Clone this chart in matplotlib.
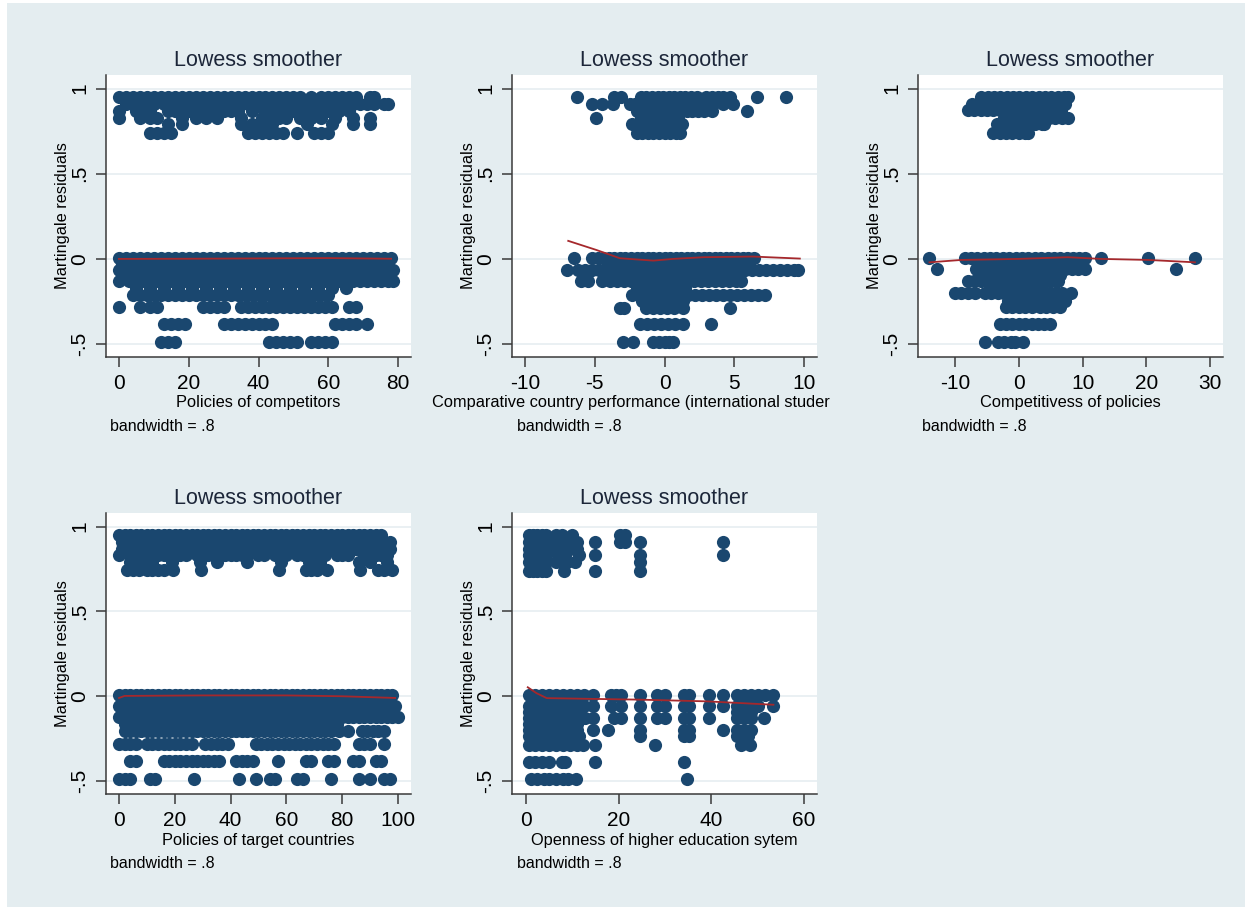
import matplotlib
matplotlib.use("Agg")
from matplotlib import pyplot as plt
from matplotlib.patches import Rectangle

plt.rcParams['font.family'] = ['Liberation Sans', 'DejaVu Sans']
plt.rcParams['axes.unicode_minus'] = False

W, H = 1252, 914
NAVY = '#1a476f'
RED = '#a5282c'
BG = '#e4edf0'
GRID = '#e6eef1'

# martingale residuals, by residual level -> x positions of the points
competitors = {
    0.95: [0, 2, 4, 6, 8, 10, 12, 14, 16, 18, 20, 22, 24, 26, 28, 30, 32, 34, 36, 38, 40,
           42, 44, 46, 48, 50, 52, 55, 58, 60, 62, 64, 66, 68, 72, 73],
    0.91: [2, 4, 6, 8, 10, 13, 15, 17, 19, 21, 23, 25, 27, 29, 31, 33, 35, 37, 39, 41, 43,
           45, 47, 49, 51, 53, 55, 57, 59, 61, 63, 65, 67, 69, 71, 73, 76, 77],
    0.87: [0, 5, 7, 9, 14, 16, 18, 20, 22, 24, 26, 28, 30, 32, 34, 38, 42, 44, 46, 48, 50,
           52, 54, 56, 58, 60, 63, 66],
    0.83: [0, 6, 9, 11, 18, 22, 25, 28, 35, 41, 43, 46, 48, 52, 55, 58, 62, 67, 72],
    0.79: [14, 18, 35, 38, 40, 42, 44, 54, 61, 67, 72],
    0.74: [9, 11, 13, 15, 37, 39, 41, 43, 45, 47, 51, 56, 58, 60],
    0.005: [0, 2, 4, 6, 8, 10, 12, 14, 16, 18, 20, 22, 24, 26, 28, 30, 32, 34, 36, 38, 40,
            42, 44, 46, 48, 50, 52, 54, 56, 58, 60, 62, 64, 66, 68, 70, 72, 74, 76, 78],
    -0.03: [1, 4, 7, 10, 13, 16, 19, 22, 25, 28, 31, 34, 37, 40, 43, 46, 49, 52, 55, 58,
            61, 64, 67, 70, 73, 76],
    -0.065: [0, 2, 4, 6, 8, 10, 12, 14, 16, 18, 20, 22, 24, 26, 28, 30, 32, 34, 36, 38, 40,
             42, 44, 46, 48, 50, 52, 54, 56, 58, 60, 62, 64, 66, 68, 70, 72, 74, 76, 78.5],
    -0.1: [2, 5, 8, 11, 14, 17, 20, 23, 26, 29, 32, 35, 38, 41, 44, 47, 50, 53, 56, 59,
           62, 65, 68, 71, 74, 77],
    -0.13: [0, 3, 5, 7, 9, 11, 13, 15, 17, 19, 21, 23, 25, 27, 29, 31, 33, 35, 37, 39, 41,
            43, 45, 47, 49, 51, 53, 55, 57, 59, 61, 63, 65, 67, 69, 71, 73, 75, 77, 78.5],
    -0.17: [5, 9, 13, 17, 21, 25, 29, 33, 37, 41, 45, 49, 53, 57, 61, 65],
    -0.21: [4, 6, 8, 10, 12, 14, 16, 18, 20, 22, 24, 26, 28, 30, 32, 34, 36, 38, 40, 42, 44,
            46, 48, 50, 52, 54, 56, 58, 60],
    -0.25: [46, 48, 50, 52, 54],
    -0.285: [0, 6, 9, 11, 24, 26, 28, 30, 35, 37, 39, 41, 43, 45, 47, 49, 51, 53, 55, 57,
             59, 61, 66, 68],
    -0.38: [13, 15, 17, 19, 30, 32, 34, 36, 38, 40, 42, 44, 62, 64, 66, 68, 71],
    -0.49: [12, 14, 16, 43, 45, 47, 49, 51, 55, 57, 59, 61],
}

performance = {
    0.95: [-6.3, -3.6, -3.1, -1.7, -1.3, -0.9, -0.5, -0.1, 0.3, 0.7, 1.1, 1.5, 1.9, 2.3,
           3.0, 3.4, 3.8, 4.2, 4.7, 6.6, 8.7],
    0.91: [-5.2, -4.5, -3.7, -2.5, -2.1, -1.7, -1.3, -0.9, -0.5, -0.1, 0.3, 0.7, 1.1, 1.5,
           1.9, 2.3, 2.7, 3.1, 3.5, 4.2, 4.9],
    0.87: [-2.0, -1.6, -1.2, -0.8, -0.4, 0.0, 0.4, 0.8, 1.2, 1.6, 2.0, 2.4, 2.8, 3.4, 5.9],
    0.83: [-4.9, -1.7, -1.3, -0.9, -0.5, -0.1, 0.3, 0.7, 1.0],
    0.79: [-2.3, -1.9, -1.5, -1.1, -0.7, -0.3, 0.1, 0.5, 0.9, 1.25],
    0.74: [-2.0, -1.6, -1.2, -0.8, -0.4, 0.0, 0.4, 0.8, 1.1],
    0.005: [-6.5, -5.2, -4.8, -4.4, -4.0, -3.6, -3.2, -2.8, -2.4, -2.0, -1.6, -1.2, -0.8,
            -0.4, 0.0, 0.4, 0.8, 1.2, 1.6, 2.0, 2.4, 2.8, 3.2, 3.6, 4.0, 4.4, 4.8, 5.2, 5.6,
            6.0, 6.4],
    -0.03: [-4.0, -3.3, -2.6, -1.9, -1.2, -0.5, 0.2, 0.9, 1.6, 2.3, 3.0, 3.7, 4.4, 5.1,
            5.8],
    -0.065: [-7.0, -6.2, -5.7, -5.2, -4.7, -4.2, -3.7, -3.2, -2.7, -2.2, -1.7, -1.2, -0.7,
             -0.2, 0.3, 0.8, 1.3, 1.8, 2.3, 2.8, 3.3, 3.8, 4.3, 4.8, 5.3, 5.8, 6.3, 6.8,
             7.3, 7.8, 8.3, 8.8, 9.3, 9.6],
    -0.1: [-3.0, -2.3, -1.6, -0.9, -0.2, 0.5, 1.2, 1.9, 2.6, 3.3, 4.0, 4.7],
    -0.13: [-6.0, -5.5, -4.5, -3.9, -3.4, -2.9, -2.4, -1.9, -1.4, -0.9, -0.4, 0.1, 0.6,
            1.1, 1.6, 2.1, 2.6, 3.1, 3.6, 4.1, 4.6, 5.1, 5.5],
    -0.17: [-2.0, -1.5, -1.0, -0.5, 0.0, 0.5, 1.0, 1.5],
    -0.21: [-2.3, -1.8, -1.3, -0.8, -0.3, 0.2, 0.7, 1.2, 1.7, 2.2, 2.7, 3.2, 3.7, 4.2, 4.7,
            5.2, 5.7, 6.2, 6.7, 7.2],
    -0.25: [-1.6, -1.1, -0.6, -0.1, 0.4, 0.9, 1.3],
    -0.29: [-3.2, -2.9, -1.3, -0.8, -0.3, 0.2, 0.7, 1.35, 4.7],
    -0.38: [-1.75, -1.25, -0.75, -0.25, 0.25, 0.75, 1.35, 3.3],
    -0.49: [-2.95, -2.25, -0.8, -0.4, 0.0, 0.3, 0.6],
}

policies = {
    0.95: [-5.9, -4.9, -3.9, -2.9, -1.9, -0.9, 0.1, 1.1, 2.1, 3.1, 4.1, 5.1, 6.1, 7.1, 7.7],
    0.91: [-7.4, -6.4, -5.4, -4.4, -3.4, -2.4, -1.4, -0.4, 0.6, 1.6, 2.6, 3.6, 4.6, 5.6,
           6.6, 7.2],
    0.875: [-8.0, -7.0, -6.0, -5.0, -4.0, -3.0, -2.0, -1.0, 0.0, 1.0, 2.0, 3.0, 4.0, 5.0,
            6.0, 6.6],
    0.83: [-2.3, -1.3, -0.3, 0.7, 1.7, 2.7, 3.7, 4.7, 5.7, 6.7, 7.7],
    0.79: [-3.4, -2.4, -1.4, -0.4, 0.6, 1.6, 2.6, 3.6, 4.0],
    0.74: [-4.0, -3.0, -2.0, -1.0, 0.0, 1.0, 1.5],
    0.005: [-14.0, -8.5, -7.5, -6.5, -5.5, -4.5, -3.5, -2.5, -1.5, -0.5, 0.5, 1.5, 2.5,
            3.5, 4.5, 5.5, 6.5, 7.5, 8.5, 9.5, 10.3, 12.9, 20.3, 27.6],
    -0.03: [-6.0, -4.5, -3.0, -1.5, 0.0, 1.5, 3.0, 4.5, 6.0, 7.5, 9.0],
    -0.06: [-12.9, -6.7, -5.7, -4.7, -3.7, -2.7, -1.7, -0.7, 0.3, 1.3, 2.3, 3.3, 4.3, 5.3,
            6.3, 7.3, 8.3, 9.3, 10.3, 24.7],
    -0.095: [-5.5, -4.0, -2.5, -1.0, 0.5, 2.0, 3.5, 5.0, 6.5],
    -0.13: [-8.0, -7.0, -6.0, -5.0, -4.0, -3.0, -2.0, -1.0, 0.0, 1.0, 2.0, 3.0, 4.0, 5.0,
            6.2],
    -0.165: [-4.0, -2.5, -1.0, 0.5, 2.0, 3.5],
    -0.2: [-10.0, -9.0, -7.9, -6.9, -5.3, -4.3, -3.3, -2.3, -1.3, -0.3, 0.7, 1.7, 2.7, 3.7,
           4.7, 5.7, 6.7, 8.2],
    -0.245: [-1.7, -0.7, 0.3, 1.3, 2.3, 3.3, 4.3, 5.3, 6.3, 7.2],
    -0.285: [-2.0, -1.0, 0.0, 1.0, 2.0, 3.3, 4.3, 5.3, 6.4],
    -0.38: [-3.0, -2.0, -1.0, 0.0, 1.0, 2.0, 3.0, 4.0, 4.85],
    -0.49: [-5.3, -3.3, -2.3, -1.3, -0.6, 0.7],
}

target = {
    0.95: [0, 2, 4, 6, 8, 10, 12, 14, 16, 18, 20, 22, 24, 26, 28, 30, 32, 34, 36, 38, 40,
           42, 44, 46, 48, 50, 52, 54, 56, 58, 60, 62, 64, 66, 68, 70, 72, 74, 76, 78, 80,
           82, 84, 86, 88, 90, 92, 94],
    0.91: [1, 3, 5, 7, 9, 11, 13, 15, 17, 19, 21, 23, 25, 27, 29, 31, 33, 35, 37, 39, 41,
           43, 45, 47, 49, 51, 53, 55, 57, 59, 61, 63, 65, 67, 69, 71, 73, 75, 77, 79, 81,
           83, 85, 87, 89, 91, 93, 95, 97],
    0.87: [1, 3, 5, 7, 9, 11, 13, 15, 19, 21, 23, 25, 27, 29, 31, 35, 37, 39, 41, 43, 45,
           47, 49, 51, 53, 55, 57, 59, 63, 65, 67, 69, 71, 73, 75, 77, 79, 81, 85, 87, 89,
           91, 93, 95, 97],
    0.83: [0, 4, 6, 8, 12, 14, 16, 20, 22, 24, 28, 32, 34, 36, 38, 40, 42, 44, 46, 50, 52,
           56, 60, 64, 66, 70, 72, 74, 78, 80, 82, 88, 92, 94, 96],
    0.79: [4, 8, 12, 19, 29, 35, 46, 58, 68, 72, 86, 90, 96],
    0.745: [3, 5, 7, 10, 12, 14, 16, 19.5, 29.5, 57.5, 67, 69, 71, 74.5, 86.5, 93, 95, 98],
    0.005: [0, 2, 4, 6, 8, 10, 12, 14, 16, 18, 20, 22, 24, 26, 28, 30, 32, 34, 36, 38, 40,
            42, 44, 46, 48, 50, 52, 54, 56, 58, 60, 62, 64, 66, 68, 70, 72, 74, 76, 78, 80,
            82, 84, 86, 88, 90, 92, 94, 96, 98],
    -0.03: [1, 4, 7, 10, 13, 16, 19, 22, 25, 28, 31, 34, 37, 40, 43, 46, 49, 52, 55, 58,
            61, 64, 67, 70, 73, 76, 79, 82, 85, 88, 91, 94, 97],
    -0.06: [0, 2, 4, 6, 8, 10, 12, 14, 16, 18, 20, 22, 24, 26, 28, 30, 32, 34, 36, 38, 40,
            42, 44, 46, 48, 50, 52, 54, 56, 58, 60, 62, 64, 66, 68, 70, 72, 74, 76, 78, 80,
            82, 84, 86, 88, 90, 92, 94, 96, 98, 99],
    -0.095: [2, 5, 8, 11, 14, 17, 20, 23, 26, 29, 32, 35, 38, 41, 44, 47, 50, 53, 56, 59,
             62, 65, 68, 71, 74, 77, 80, 83, 86, 89, 92, 95, 98],
    -0.125: [0, 2, 4, 6, 8, 10, 12, 14, 16, 18, 20, 22, 24, 26, 28, 30, 32, 34, 36, 38, 40,
             42, 44, 46, 48, 50, 52, 54, 56, 58, 60, 62, 64, 66, 68, 70, 72, 74, 76, 78, 80,
             82, 84, 86, 88, 90, 92, 94, 96, 98, 100],
    -0.165: [2, 6, 10, 14, 18, 22, 26, 30, 34, 38, 42, 46, 50, 54, 58, 62, 66, 70, 74, 78],
    -0.205: [2, 4, 6, 8, 10, 12, 14, 16, 18, 20, 22, 24, 26, 28, 30, 32, 34, 36, 38, 40, 42,
             44, 46, 48, 50, 52, 54, 56, 58, 60, 62, 64, 66, 68, 70, 72, 74, 76, 79, 82, 87,
             89, 91, 93, 95],
    -0.28: [0, 2, 4, 6, 10, 12, 14, 16, 18, 20, 22, 24, 26, 31, 33, 35, 37, 39, 49, 51, 53,
            55, 57, 59, 61, 63, 65, 67, 69, 71, 73, 75, 77, 86, 88, 90, 95],
    -0.38: [4, 6, 16, 18, 20, 22, 24, 26, 28, 30, 32, 34, 36, 42, 44, 46, 48, 57, 67, 69,
            75, 77, 84, 86, 92, 94],
    -0.49: [0, 2, 4, 11, 13, 27, 43, 49, 54, 56, 64, 66, 76, 86, 90, 95, 97],
}

openness = {
    0.95: [0.6, 1.5, 2.5, 3.5, 4.3, 6.6, 7.7, 10, 20.3, 21.4],
    0.91: [0.6, 1.5, 2.5, 3.5, 4.3, 6.6, 7.7, 9.5, 11, 15, 20.3, 21.4, 24.6, 42.6],
    0.87: [0.6, 1.5, 2.5, 3.5, 4.3, 6.6, 7.7, 9.5, 11],
    0.83: [0.6, 1.5, 2.5, 3.5, 4.3, 7, 8.5, 11.5, 15, 24.6, 42.6],
    0.79: [0.6, 1.5, 2.5, 3.5, 4.3, 6.6, 7.7, 8.8, 10.5, 24.6],
    0.74: [0.6, 1.5, 2.5, 3.5, 4.3, 8.3, 15, 24.6],
    0.005: [0.6, 2, 3.5, 5, 6.5, 8, 9.5, 11, 12.5, 14.4, 18.3, 19.5, 20.5, 24.6, 28.2, 30,
            34.2, 35.2, 39.4, 42.6, 45.6, 47, 48.5, 50, 51.5, 53.3],
    -0.06: [0.6, 2, 3.5, 5, 6.5, 8, 9.5, 11, 12.5, 14.4, 18.3, 20.5, 24.6, 28.2, 30, 34.2,
            35.2, 39.4, 42.6, 45.6, 47, 48.5, 50, 53.3],
    -0.095: [0.6, 2, 3.5, 5, 6.5, 8, 9.5, 11, 45.6, 47, 48.5],
    -0.13: [0.6, 2, 3.5, 5, 6.5, 8, 9.5, 11, 12.7, 14.4, 19, 20.5, 24.6, 28.2, 30, 34.2,
            35.2, 39.4, 45.6, 47, 48.5, 51.3],
    -0.165: [0.6, 2, 3.5, 5, 6.5, 8, 9.5, 11],
    -0.2: [0.6, 2, 3.5, 5, 6.5, 8, 9.5, 11, 14.4, 17.8, 24.6, 34.2, 35.2, 42.6, 45.6, 47,
           48.5],
    -0.235: [0.6, 2, 3.5, 5, 7, 8.5, 10, 11.5, 24.6, 34.2, 35.2, 45.6, 47, 48],
    -0.285: [0.6, 2, 3.5, 5, 6.5, 8, 9.5, 11, 12.4, 15, 27.9, 46.5, 48.3],
    -0.385: [0.6, 2, 3.5, 5, 7.7, 8.5, 15, 34],
    -0.49: [1, 2.5, 4, 5, 6.6, 8, 9, 10.8, 34.7],
}

# lowess fits
lowess_competitors_x = [0, 20, 40, 60, 78]
lowess_competitors_y = [0.0, 0.001, 0.003, 0.005, 0.001]
lowess_performance_x = [-6.9, -4.9, -3.2, -0.8, 0.6, 2.8, 6.3, 9.7]
lowess_performance_y = [0.106, 0.053, 0.004, -0.01, 0.0, 0.01, 0.014, 0.002]
lowess_policies_x = [-14.0, -9.0, -0.1, 7.7, 12.9, 20.3, 27.6]
lowess_policies_y = [-0.02, -0.006, 0.0, 0.01, 0.0, -0.006, -0.02]
lowess_target_x = [0, 2, 30, 60, 80, 99]
lowess_target_y = [-0.01, 0.002, 0.005, 0.005, 0.0, -0.01]
lowess_openness_x = [0.4, 2.3, 4.5, 24.6, 39, 53.4]
lowess_openness_y = [0.053, 0.018, -0.011, -0.02, -0.03, -0.05]

y_ticks = [-0.5, 0, 0.5, 1]
y_tick_labels = ['-.5', '0', '.5', '1']


def fx(px):
    return px / W


def fy(py):
    return 1 - py / H


def panel(left, top, right, bottom, rows, lx, ly, xlim, xticks):
    ax = fig.add_axes([fx(left), fy(bottom), (right - left) / W, (bottom - top) / H])
    xs, ys = [], []
    for level, row in rows.items():
        xs += row
        ys += [level] * len(row)
    ax.scatter(xs, ys, s=90, color=NAVY, linewidths=0, zorder=2)
    ax.plot(lx, ly, color=RED, lw=1.3, zorder=3)
    ax.set_xlim(*xlim)
    ax.set_ylim(-0.576, 1.08)
    ax.set_xticks(xticks)
    ax.set_yticks(y_ticks)
    ax.set_yticklabels(y_tick_labels, rotation=90, va='center')
    ax.grid(axis='y', color=GRID, lw=1.2, zorder=0)
    ax.set_axisbelow(True)
    for s in ['top', 'right']:
        ax.spines[s].set_visible(False)
    for s in ['left', 'bottom']:
        ax.spines[s].set_color('#3a3a3a')
        ax.spines[s].set_linewidth(1.1)
    ax.tick_params(labelsize=15, length=7, width=1.1, color='#3a3a3a', pad=5)
    ax.tick_params(axis='y', pad=5)
    mid = (left + right) / 2
    fig.text(fx(mid), fy(top - 15), 'Lowess smoother', ha='center', va='center',
             fontsize=15.5, color='#1c2639')
    fig.text(fx(left - 43), fy((top + bottom) / 2), 'Martingale residuals', rotation=90,
             ha='center', va='center', fontsize=11.8)
    return ax


fig = plt.figure(figsize=(W / 100, H / 100), dpi=100, facecolor='white')
fig.patches.append(Rectangle((fx(7), fy(907)), (1245 - 7) / W, (907 - 3) / H,
                             transform=fig.transFigure, facecolor=BG, edgecolor='none',
                             zorder=-10))

panel(106, 75, 411, 357, competitors, lowess_competitors_x, lowess_competitors_y,
      (-3.7, 83.7), [0, 20, 40, 60, 80])
panel(512, 75, 817, 357, performance, lowess_performance_x, lowess_performance_y,
      (-10.93, 10.93), [-10, -5, 0, 5, 10])
panel(918, 75, 1223, 357, policies, lowess_policies_x, lowess_policies_y,
      (-15.8, 32.0), [-10, 0, 10, 20, 30])
panel(106, 513, 411, 794, target, lowess_target_x, lowess_target_y,
      (-4.66, 104.7), [0, 20, 40, 60, 80, 100])
panel(512, 513, 817, 794, openness, lowess_openness_x, lowess_openness_y,
      (-3.0, 62.8), [0, 20, 40, 60])

# x labels and notes
fig.text(fx(258.5), fy(402), 'Policies of competitors', ha='center', va='center', fontsize=11.8)
fig.text(fx(432), fy(402), 'Comparative country performance (international studer',
         ha='left', va='center', fontsize=11.8)
fig.text(fx(1070.5), fy(402), 'Competitivess of policies', ha='center', va='center',
         fontsize=11.8)
fig.text(fx(258.5), fy(840), 'Policies of target countries', ha='center', va='center',
         fontsize=11.8)
fig.text(fx(664.5), fy(840), 'Openness of higher education sytem', ha='center',
         va='center', fontsize=11.8)
for x, y in [(110, 426), (517, 426), (922, 426), (110, 863), (517, 863)]:
    fig.text(fx(x), fy(y), 'bandwidth = .8', ha='left', va='center', fontsize=11.5)

fig.savefig('out.png', dpi=100, facecolor='white')
